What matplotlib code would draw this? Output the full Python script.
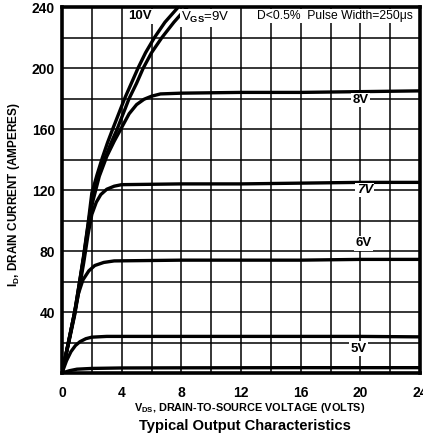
import matplotlib.pyplot as plt
import numpy as np

# Vds (V) / Id (A) points, one pair of lists per gate voltage
v_10 = [0, 0.45, 0.85, 1.15, 1.45, 1.75, 2.0, 2.35, 2.7, 3.05, 3.4, 3.8, 4.2, 4.65, 5.1, 5.6, 6.2, 6.9, 7.8, 8.1]
i_10 = [0, 21, 40, 58, 77, 98, 118, 130, 141, 151, 160, 170, 180, 190, 200, 210, 220, 230, 240, 243]
v_9 = [0, 0.45, 0.85, 1.15, 1.45, 1.75, 2.05, 2.45, 2.85, 3.25, 3.7, 4.1, 4.5, 5.0, 5.45, 6.0, 6.7, 7.5, 8.4, 8.7]
i_9 = [0, 21, 40, 58, 76, 97, 116, 129, 140, 150, 160, 170, 180, 190, 200, 210, 220, 230, 240, 243]
v_8 = [0, 0.45, 0.85, 1.15, 1.45, 1.75, 2.05, 2.5, 3.0, 3.5, 4.0, 4.5, 5.0, 5.5, 6.0, 6.6, 8, 12, 16, 20, 24]
i_8 = [0, 20, 39, 57, 75, 95, 112, 129, 142, 152, 161, 170, 176, 179.5, 181.5, 183, 183.5, 184, 184, 184.5, 185]
v_7 = [0, 0.45, 0.85, 1.15, 1.45, 1.75, 2.0, 2.3, 2.6, 3.0, 3.5, 4.0, 8, 12, 16, 20, 24]
i_7 = [0, 20, 38, 55, 72, 91, 104, 112, 117, 120.5, 122.5, 123.5, 124, 124, 124.5, 125, 125]
v_6 = [0, 0.45, 0.85, 1.1, 1.4, 1.8, 2.2, 2.8, 3.5, 8, 12, 16, 20, 24]
i_6 = [0, 21, 40, 52, 61, 67, 70.5, 72.5, 73.5, 74, 74, 74, 74.5, 74.5]
v_5 = [0, 0.3, 0.6, 0.9, 1.2, 1.6, 2.0, 3.0, 8, 12, 16, 20, 24]
i_5 = [0, 8, 14, 18, 20.5, 22.5, 23.5, 24, 24, 24, 24, 24, 23.7]
v_4 = [0, 0.5, 1.0, 2.0, 4.0, 8, 16, 24]
i_4 = [0, 1.5, 2.5, 3.0, 3.3, 3.4, 3.5, 3.5]

curves = [(v_10, i_10), (v_9, i_9), (v_8, i_8), (v_7, i_7), (v_6, i_6), (v_5, i_5), (v_4, i_4)]

x_ticks = [0, 4, 8, 12, 16, 20, 24]
y_ticks = [40, 80, 120, 160, 200, 240]

plt.rcParams['font.family'] = ['Liberation Sans Narrow', 'Liberation Sans', 'DejaVu Sans']
plt.rcParams['mathtext.fontset'] = 'custom'
plt.rcParams['mathtext.rm'] = 'Liberation Sans:bold'
plt.rcParams['mathtext.it'] = 'Liberation Sans:bold'
plt.rcParams['mathtext.bf'] = 'Liberation Sans:bold'

fig = plt.figure(figsize=(4.23, 4.36), dpi=100)
ax = fig.add_axes([62 / 423, 63 / 436, 358 / 423, 366 / 436])

for v, i in curves:
    ax.plot(v, i, color='black', lw=2.4, solid_capstyle='butt', zorder=3)

ax.set_xlim(0, 24)
ax.set_ylim(0, 240)
ax.set_xticks(x_ticks)
ax.set_xticks(np.arange(2, 24, 4), minor=True)
ax.set_yticks(y_ticks)
ax.set_yticks(np.arange(20, 240, 40), minor=True)
ax.grid(True, which='both', color='black', lw=1.1, zorder=1)
ax.set_xticklabels([str(t) for t in x_ticks], fontsize=10, fontweight='bold')
ax.set_yticklabels([str(t) for t in y_ticks], fontsize=10, fontweight='bold')
ax.tick_params(which='both', length=0)
ax.tick_params(axis='x', pad=9)
ax.tick_params(axis='y', pad=5)
for s in ax.spines.values():
    s.set_linewidth(2.6)

box = dict(facecolor='white', edgecolor='none', pad=1.0)
ax.text(20.0, 179, '8V', fontsize=9.5, fontweight='bold', ha='center', va='center', bbox=box, zorder=4)
ax.text(20.3, 120, '7V', fontsize=9.5, fontweight='bold', style='italic', ha='center', va='center', bbox=box, zorder=4)
ax.text(20.2, 85, '6V', fontsize=9.5, fontweight='bold', ha='center', va='center', bbox=box, zorder=4)
ax.text(19.9, 16, '5V', fontsize=9.5, fontweight='bold', ha='center', va='center', bbox=box, zorder=4)
ax.text(5.2, 234, '10V', fontsize=9.5, fontweight='bold', ha='center', va='center', bbox=box, zorder=4)
ax.text(8.0, 233, r'V$_{\rm GS}$=9V', fontsize=9.5, ha='left', va='center', bbox=box, zorder=4)
ax.text(13.05, 234, 'D<0.5%  Pulse Width=250\u03bcs', fontsize=8.7, ha='left', va='center', bbox=box, zorder=4)

fig.text(14 / 423, 1 - 195 / 436, r'I$_{\rm D}$, DRAIN CURRENT (AMPERES)', rotation=90,
         fontsize=8.5, fontweight='bold', ha='center', va='center')
fig.text(250 / 423, 1 - 408 / 436, r'V$_{\rm DS}$, DRAIN-TO-SOURCE VOLTAGE (VOLTS)',
         fontsize=7.8, fontweight='bold', ha='center', va='center')
fig.text(245 / 423, 1 - 426 / 436, 'Typical Output Characteristics',
         fontsize=10.6, fontweight='bold', ha='center', va='center')

fig.savefig('out.png', dpi=100)
